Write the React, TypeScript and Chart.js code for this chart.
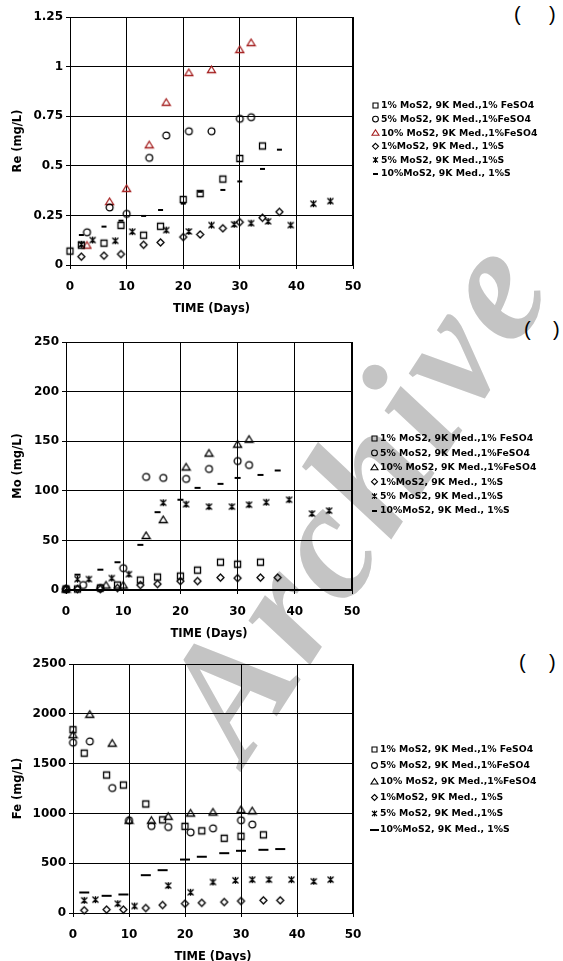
import React, { useEffect, useRef } from 'react';
import { Chart, registerables } from 'chart.js';

Chart.register(...registerables);

// ---------- labels ----------
const SERIES_LABELS = [
  '1% MoS2, 9K Med.,1% FeSO4',
  '5% MoS2, 9K Med.,1%FeSO4',
  '10% MoS2, 9K Med.,1%FeSO4',
  '1%MoS2, 9K Med., 1%S',
  '5% MoS2, 9K Med.,1%S',
  '10%MoS2, 9K Med., 1%S',
];
const X_TICKS = ['0', '10', '20', '30', '40', '50'];
const RE_TICKS = ['0', '0.25', '0.5', '0.75', '1', '1.25'];
const MO_TICKS = ['0', '50', '100', '150', '200', '250'];
const FE_TICKS = ['0', '500', '1000', '1500', '2000', '2500'];
const X_TITLE = 'TIME (Days)';

// ---------- Re (mg/L) ----------
const RE_1 = [[0, 0.07], [2, 0.10], [6, 0.11], [9, 0.20], [13, 0.15], [16, 0.195], [20, 0.33], [23, 0.36], [27, 0.433], [30, 0.537], [34, 0.60]];
const RE_2 = [[3, 0.165], [7, 0.29], [10, 0.258], [14, 0.54], [17, 0.653], [21, 0.674], [25, 0.674], [30, 0.737], [32, 0.745]];
const RE_3 = [[3, 0.10], [7, 0.32], [10, 0.386], [14, 0.606], [17, 0.82], [21, 0.97], [25, 0.985], [30, 1.086], [32, 1.121]];
const RE_4 = [[2, 0.042], [6, 0.047], [9, 0.055], [13, 0.102], [16, 0.114], [20, 0.141], [23, 0.154], [27, 0.185], [30, 0.216], [34, 0.238], [37, 0.268]];
const RE_5 = [[2, 0.104], [4, 0.126], [8, 0.122], [11, 0.168], [17, 0.176], [21, 0.169], [25, 0.201], [29, 0.205], [32, 0.211], [35, 0.22], [39, 0.201], [43, 0.309], [46, 0.322]];
const RE_6 = [[2, 0.154], [6, 0.196], [9, 0.226], [13, 0.25], [16, 0.28], [20, 0.312], [23, 0.372], [27, 0.381], [30, 0.424], [34, 0.487], [37, 0.584]];

// ---------- Mo (mg/L) ----------
const MO_1 = [[0, 1], [2, 1], [6, 2], [9, 5], [13, 10], [16, 13], [20, 14], [23, 20], [27, 28], [30, 26], [34, 28]];
const MO_2 = [[0, 1], [3, 5], [6, 2], [10, 22], [14, 114], [17, 113], [21, 112], [25, 122], [30, 130], [32, 126]];
const MO_3 = [[0, 1], [7, 5], [10, 5], [14, 55], [17, 71], [21, 124], [25, 138], [30, 147], [32, 152]];
const MO_4 = [[0, 1], [2, 1], [6, 1], [9, 2], [13, 5], [16, 6], [20, 9], [23, 9], [27, 12.5], [30, 12], [34, 12.5], [37, 12.5]];
const MO_5 = [[2, 11], [4, 11], [8, 12], [11, 16], [17, 88], [21, 86.5], [25, 84], [29, 84], [32, 86], [35, 88.5], [39, 91], [43, 77], [46, 80]];
const MO_6 = [[2, 16], [6, 21], [9, 28.5], [13, 46], [16, 79], [20, 91.5], [23, 103.5], [27, 107.5], [30, 113.5], [34, 116.5], [37, 121]];

// ---------- Fe (mg/L) ----------
const FE_1 = [[0, 1840], [2, 1605], [6, 1385], [9, 1285], [13, 1095], [16, 935], [20, 870], [23, 825], [27, 750], [30, 770], [34, 785]];
const FE_2 = [[0, 1710], [3, 1723], [7, 1255], [10, 930], [14, 873], [17, 863], [21, 810], [25, 850], [30, 931], [32, 888]];
const FE_3 = [[0, 1790], [3, 1995], [7, 1705], [10, 931], [14, 931], [17, 971], [21, 1004], [25, 1014], [30, 1038], [32, 1026]];
const FE_4 = [[2, 27], [6, 34], [9, 34], [13, 50], [16, 80], [20, 94], [23, 102], [27, 110], [30, 120], [34, 127], [37, 127]];
const FE_5 = [[2, 127], [4, 134], [8, 94], [11, 70], [17, 275], [21, 208], [25, 311], [29, 328], [32, 335], [35, 335], [39, 335], [43, 318], [46, 335]];
const FE_6 = [[2, 211], [6, 178], [9, 191], [13, 385], [16, 435], [20, 542], [23, 570], [27, 606], [30, 630], [34, 640], [37, 647]];

const FONT = '"DejaVu Sans", "Liberation Sans", Arial, sans-serif';
const RED = '#a52020';
const BLACK = '#000000';

type Kind = 'square' | 'circle' | 'triangle' | 'diamond' | 'star' | 'dash';
const KINDS: Kind[] = ['square', 'circle', 'triangle', 'diamond', 'star', 'dash'];

function drawMarker(ctx: CanvasRenderingContext2D, kind: Kind, cx: number, cy: number, s: number, color: string, dashW: number, lw: number) {
  ctx.save();
  ctx.strokeStyle = color;
  ctx.fillStyle = color;
  ctx.lineWidth = lw;
  ctx.beginPath();
  switch (kind) {
    case 'square':
      ctx.rect(cx - s, cy - s, 2 * s, 2 * s);
      ctx.stroke();
      break;
    case 'circle':
      ctx.arc(cx, cy, s + 0.4, 0, Math.PI * 2);
      ctx.stroke();
      break;
    case 'triangle':
      ctx.moveTo(cx, cy - s - 0.5);
      ctx.lineTo(cx + s + 1, cy + s);
      ctx.lineTo(cx - s - 1, cy + s);
      ctx.closePath();
      ctx.stroke();
      break;
    case 'diamond':
      ctx.moveTo(cx, cy - s - 0.5);
      ctx.lineTo(cx + s + 0.5, cy);
      ctx.lineTo(cx, cy + s + 0.5);
      ctx.lineTo(cx - s - 0.5, cy);
      ctx.closePath();
      ctx.stroke();
      break;
    case 'star':
      ctx.moveTo(cx, cy - s - 0.5);
      ctx.lineTo(cx, cy + s + 0.5);
      ctx.moveTo(cx - s, cy - s);
      ctx.lineTo(cx + s, cy + s);
      ctx.moveTo(cx + s, cy - s);
      ctx.lineTo(cx - s, cy + s);
      ctx.stroke();
      break;
    case 'dash':
      ctx.fillRect(Math.round(cx - dashW / 2), Math.round(cy - 1), dashW, 2);
      break;
  }
  ctx.restore();
}

function markerCanvas(kind: Kind, s: number, color: string, dashW: number) {
  const size = 2 * Math.ceil(s) + 5;
  const w = kind === 'dash' ? dashW + 4 : size;
  const c = document.createElement('canvas');
  c.width = w;
  c.height = size;
  const ctx = c.getContext('2d')!;
  drawMarker(ctx, kind, w / 2, size / 2, s, color, dashW, 1.3);
  return c;
}

interface PanelCfg {
  top: number;
  h: number;
  L: number;
  R: number;
  T: number;
  B: number;
  yMax: number;
  yStep: number;
  yTicks: string[];
  yTitle: string;
  series: number[][][];
  colors: string[];
  dashW: number;
  legX: number;
  legTextX: number;
  legY0: number;
  legDy: number;
  legDashW: number;
  bottomBorder: number;
}

function buildConfig(cfg: PanelCfg): any {
  const xH = 51;
  const padLeft = 11;
  const datasets = cfg.series.map((data, i) => ({
    label: SERIES_LABELS[i],
    data: data.map(([x, y]) => ({ x, y })),
    pointStyle: markerCanvas(KINDS[i], 3, cfg.colors[i], cfg.dashW),
    pointRadius: 4,
    showLine: false,
    clip: false,
  }));

  const legendPlugin = {
    id: 'customLegend',
    afterDraw(chart: any) {
      const ctx = chart.ctx as CanvasRenderingContext2D;
      ctx.save();
      cfg.series.forEach((_, i) => {
        const y = cfg.legY0 + i * cfg.legDy;
        drawMarker(ctx, KINDS[i], cfg.legX, y + 0.5, 2.5, cfg.colors[i], cfg.legDashW, 1.1);
        ctx.font = `bold 9.3px ${FONT}`;
        ctx.fillStyle = BLACK;
        ctx.textBaseline = 'middle';
        ctx.textAlign = 'left';
        ctx.fillText(SERIES_LABELS[i], cfg.legTextX, y + 1);
      });
      ctx.restore();
    },
  };

  const borderPlugin = {
    id: 'rightBorder',
    afterDraw(chart: any) {
      const { ctx, chartArea } = chart;
      ctx.save();
      ctx.fillStyle = BLACK;
      ctx.fillRect(Math.round(chartArea.right) - 1, Math.round(chartArea.top), 2, Math.round(chartArea.bottom - chartArea.top) + 1);
      ctx.restore();
    },
  };

  return {
    type: 'scatter',
    data: { datasets },
    plugins: [legendPlugin, borderPlugin],
    options: {
      animation: false,
      responsive: false,
      events: [],
      layout: {
        padding: { left: padLeft, right: 563 - cfg.R, top: cfg.T, bottom: cfg.h - cfg.B - xH },
      },
      plugins: { legend: { display: false }, tooltip: { enabled: false } },
      scales: {
        x: {
          type: 'linear',
          min: 0,
          max: 50,
          ticks: {
            stepSize: 10,
            color: BLACK,
            padding: 11,
            font: { family: FONT, weight: 'bold', size: 12 },
            callback: (v: number) => X_TICKS[Math.round(v / 10)],
          },
          grid: { color: BLACK, lineWidth: 1, drawTicks: true, tickLength: 4, tickColor: BLACK },
          border: { display: true, color: BLACK, width: cfg.bottomBorder },
          title: {
            display: true,
            text: X_TITLE,
            color: BLACK,
            padding: 0,
            font: { family: FONT, weight: 'bold', size: 11.5 },
          },
          afterFit: (s: any) => {
            s.height = xH;
          },
        },
        y: {
          type: 'linear',
          min: 0,
          max: cfg.yMax,
          ticks: {
            stepSize: cfg.yStep,
            color: BLACK,
            padding: 3,
            font: { family: FONT, weight: 'bold', size: 12 },
            callback: (v: number) => cfg.yTicks[Math.round(v / cfg.yStep)],
          },
          grid: { color: BLACK, lineWidth: 1, drawTicks: true, tickLength: 4, tickColor: BLACK },
          border: { display: true, color: BLACK, width: 1 },
          title: {
            display: true,
            text: cfg.yTitle,
            color: BLACK,
            padding: 0,
            font: { family: FONT, weight: 'bold', size: 11.5 },
          },
          afterFit: (s: any) => {
            s.width = cfg.L - padLeft;
          },
        },
      },
    },
  };
}

function Panel({ cfg }: { cfg: PanelCfg }) {
  const ref = useRef<HTMLCanvasElement>(null);
  useEffect(() => {
    if (!ref.current) return;
    const chart = new Chart(ref.current, buildConfig(cfg));
    return () => chart.destroy();
  }, []);
  return (
    <canvas
      ref={ref}
      width={563}
      height={cfg.h}
      style={{ position: 'absolute', left: 0, top: cfg.top, width: 563, height: cfg.h }}
    />
  );
}

const PANELS: PanelCfg[] = [
  {
    top: 0, h: 330, L: 70, R: 353, T: 17, B: 265,
    yMax: 1.25, yStep: 0.25, yTicks: RE_TICKS, yTitle: 'Re (mg/L)',
    series: [RE_1, RE_2, RE_3, RE_4, RE_5, RE_6],
    colors: [BLACK, BLACK, RED, BLACK, BLACK, BLACK],
    dashW: 5, legX: 375.5, legTextX: 381, legY0: 105, legDy: 13.6, legDashW: 5, bottomBorder: 1,
  },
  {
    top: 330, h: 320, L: 66, R: 352, T: 12, B: 260,
    yMax: 250, yStep: 50, yTicks: MO_TICKS, yTitle: 'Mo (mg/L)',
    series: [MO_1, MO_2, MO_3, MO_4, MO_5, MO_6],
    colors: [BLACK, BLACK, BLACK, BLACK, BLACK, BLACK],
    dashW: 6, legX: 374.5, legTextX: 380, legY0: 108, legDy: 14.4, legDashW: 5, bottomBorder: 2,
  },
  {
    top: 650, h: 320, L: 73, R: 353, T: 14, B: 263,
    yMax: 2500, yStep: 500, yTicks: FE_TICKS, yTitle: 'Fe (mg/L)',
    series: [FE_1, FE_2, FE_3, FE_4, FE_5, FE_6],
    colors: [BLACK, BLACK, BLACK, BLACK, BLACK, BLACK],
    dashW: 10, legX: 374.5, legTextX: 380, legY0: 99, legDy: 16, legDashW: 9, bottomBorder: 1,
  },
];

export default function App() {
  return (
    <div style={{ position: 'absolute', left: 0, top: 0, width: 563, height: 961, overflow: 'hidden', background: '#fff' }}>
      <svg width={563} height={961} style={{ position: 'absolute', left: 0, top: 0 }}>
        <text
          x={0}
          y={0}
          transform="translate(245,765) rotate(-57)"
          fontFamily='"Liberation Serif", "DejaVu Serif", serif'
          fontStyle="italic"
          fontWeight="bold"
          fontSize={165}
          letterSpacing={6}
          fill="#c4c4c4"
        >
          Archive
        </text>
        <g fontFamily='"Liberation Sans", Arial, sans-serif' fontSize={20} fill="#000">
          <text x={514} y={21}>(</text>
          <text x={549} y={21}>)</text>
          <text x={524} y={336}>(</text>
          <text x={553} y={336}>)</text>
          <text x={519} y={669}>(</text>
          <text x={549} y={669}>)</text>
        </g>
      </svg>
      {PANELS.map((p, i) => (
        <Panel key={i} cfg={p} />
      ))}
    </div>
  );
}
